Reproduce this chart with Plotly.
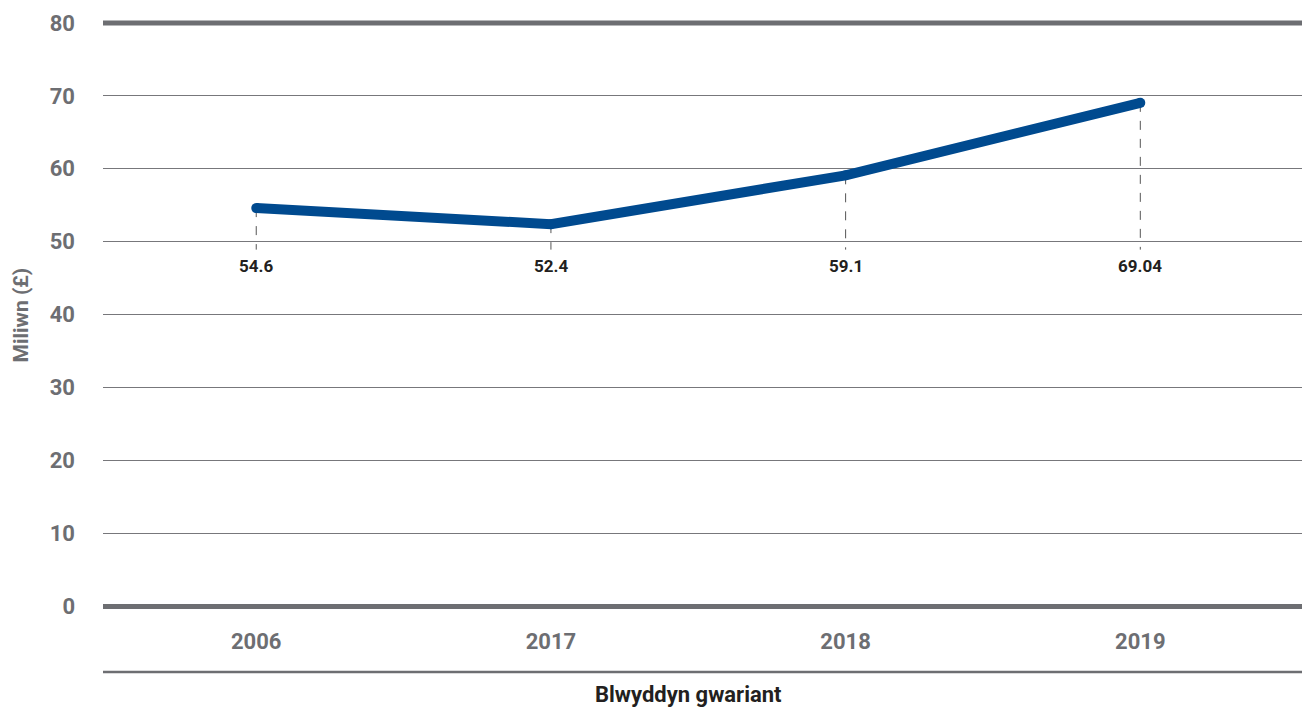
import plotly.graph_objects as go

years = ["2006", "2017", "2018", "2019"]
values = [54.6, 52.4, 59.1, 69.04]
labels = ["54.6", "52.4", "59.1", "69.04"]
y_ticks = [0, 10, 20, 30, 40, 50, 60, 70, 80]

GRAY = "#6d6e72"
BLUE = "#004a8f"
DARK = "#231f20"
FONT = "Roboto"

xs = list(range(len(years)))

fig = go.Figure()
fig.add_trace(go.Scatter(
    x=xs, y=values, mode="lines+markers",
    line=dict(color=BLUE, width=10),
    marker=dict(color=BLUE, size=10),
    hoverinfo="skip", showlegend=False,
))

shapes = []
annotations = []
for x, v, lab in zip(xs, values, labels):
    shapes.append(dict(type="line", xref="x", yref="y", x0=x, x1=x, y0=v, y1=48.9,
                       line=dict(color="#555555", width=1, dash="dash"), layer="below"))
    annotations.append(dict(x=x, y=50, xref="x", yref="y", text=lab, showarrow=False,
                            yshift=-24, font=dict(family=FONT, size=17, color=DARK, weight="bold")))

# thick top line at 80
shapes.append(dict(type="line", xref="paper", yref="paper", x0=0, x1=1, y0=1, y1=1,
                   line=dict(color=GRAY, width=5), layer="above"))
# bottom line under category labels
shapes.append(dict(type="line", xref="paper", yref="paper", x0=0, x1=1, y0=-0.1132, y1=-0.1132,
                   line=dict(color=GRAY, width=2.5)))

annotations.append(dict(x=0.482, y=-0.151, xref="paper", yref="paper", text="Blwyddyn gwariant",
                        showarrow=False, yanchor="middle",
                        font=dict(family=FONT, size=22, color=DARK, weight="bold")))
annotations.append(dict(x=-0.0675, y=0.5, xref="paper", yref="paper", text="Miliwn (£)",
                        showarrow=False, textangle=-90, xanchor="center", yanchor="middle",
                        font=dict(family=FONT, size=21, color=GRAY, weight="bold")))

fig.update_layout(
    width=1310, height=699,
    margin=dict(l=95, r=0, t=15, b=101),
    paper_bgcolor="white", plot_bgcolor="white",
    shapes=shapes, annotations=annotations,
    xaxis=dict(
        range=[-0.52, 3.603], tickvals=xs, ticktext=years,
        showgrid=False, zeroline=False, showline=False,
        ticks="", ticklabelstandoff=20,
        tickfont=dict(family=FONT, size=22, color=GRAY, weight="bold"),
    ),
    yaxis=dict(
        range=[0, 80], tickvals=y_ticks,
        showgrid=True, gridcolor="#77777b", gridwidth=1.3,
        zeroline=True, zerolinecolor=GRAY, zerolinewidth=5,
        showline=False, ticks="", ticklabelstandoff=27,
        tickfont=dict(family=FONT, size=22, color=GRAY, weight="bold"),
    ),
)

fig.write_html("out.html")
